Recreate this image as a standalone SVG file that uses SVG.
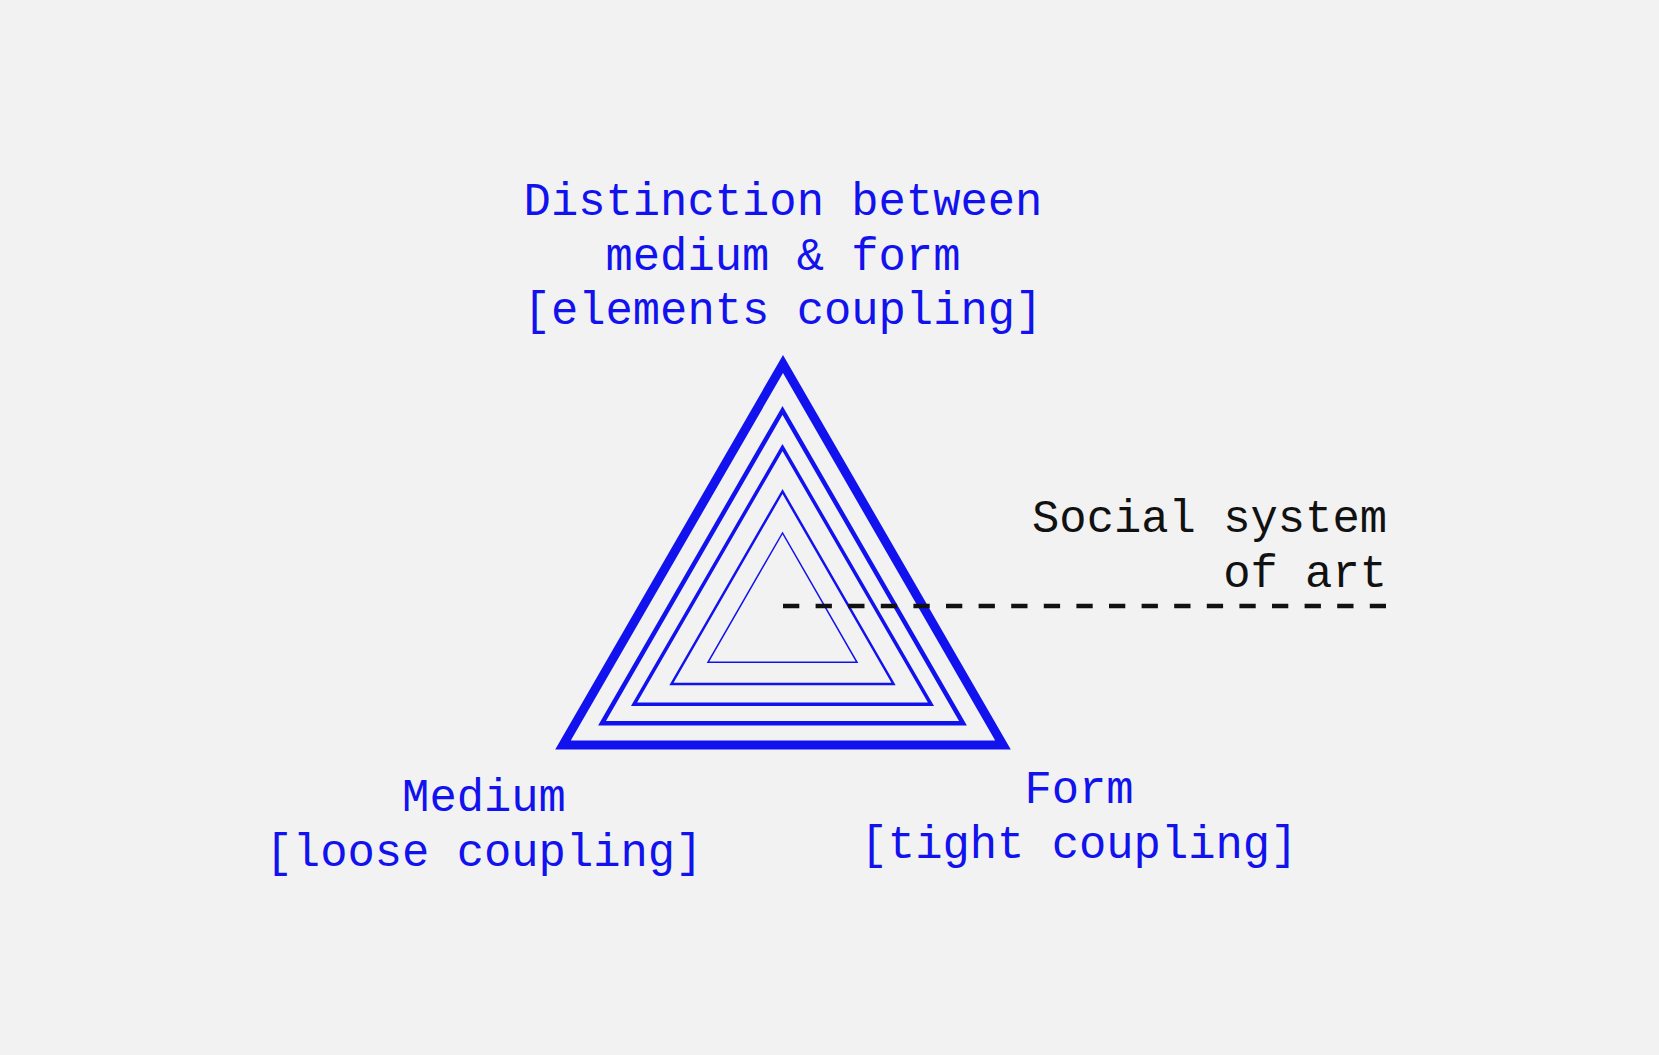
<svg xmlns="http://www.w3.org/2000/svg" width="1659" height="1055" viewBox="0 0 1659 1055">
<style>
.bg{fill:#f2f2f2}
.tri{fill:none;stroke:#1212ee;stroke-linejoin:miter}
.lbl{font-family:"Liberation Mono","Courier New",monospace;font-size:45.5px;fill:#1212ee;text-anchor:middle}
.blk{font-family:"Liberation Mono","Courier New",monospace;font-size:45.5px;fill:#111;text-anchor:end}
.dash{stroke:#111;stroke-width:4.5;stroke-dasharray:16.3 16.3;fill:none}
</style>
<rect class="bg" x="0" y="0" width="1659" height="1055"/>
<g id="triangles">
<polygon class="tri" style="stroke-width:9" points="783,364 563,745 1003,745"/>
<polygon class="tri" style="stroke-width:4.5" points="782.5,410.5 602,723.3 963,723.3"/>
<polygon class="tri" style="stroke-width:3.5" points="782.5,447.5 634,704.3 931,704.3"/>
<polygon class="tri" style="stroke-width:2.5" points="782.5,491.5 671.5,684 893.5,684"/>
<polygon class="tri" style="stroke-width:1.5" points="782.5,533 708,662.3 857,662.3"/>
</g>
<g id="connectors">
<line class="dash" x1="783" y1="606" x2="1386" y2="606"/>
</g>
<g id="node-distinction">
<text class="lbl" x="783" y="215">Distinction between</text>
<text class="lbl" x="783" y="270">medium &amp; form</text>
<text class="lbl" x="783" y="324">[elements coupling]</text>
</g>
<g id="node-social">
<text class="blk" x="1387" y="532">Social system</text>
<text class="blk" x="1387" y="587">of art</text>
</g>
<g id="node-medium">
<text class="lbl" x="484" y="811">Medium</text>
<text class="lbl" x="484" y="866">[loose coupling]</text>
</g>
<g id="node-form">
<text class="lbl" x="1079" y="803">Form</text>
<text class="lbl" x="1079" y="858">[tight coupling]</text>
</g>
</svg>
